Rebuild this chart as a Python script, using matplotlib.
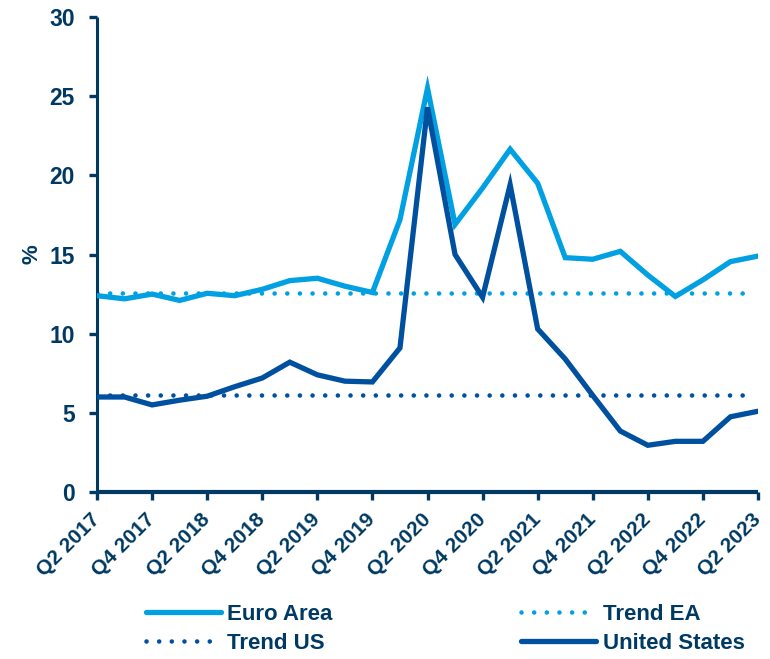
import matplotlib.pyplot as plt

# Quarterly series, Q2 2017 .. Q2 2023
quarters = [
    "Q2 2017", "Q3 2017", "Q4 2017", "Q1 2018", "Q2 2018", "Q3 2018", "Q4 2018",
    "Q1 2019", "Q2 2019", "Q3 2019", "Q4 2019", "Q1 2020", "Q2 2020", "Q3 2020",
    "Q4 2020", "Q1 2021", "Q2 2021", "Q3 2021", "Q4 2021", "Q1 2022", "Q2 2022",
    "Q3 2022", "Q4 2022", "Q1 2023", "Q2 2023",
]
euro_area = [12.4, 12.2, 12.5, 12.1, 12.55, 12.4, 12.8, 13.35, 13.5, 13.0, 12.6,
             17.2, 25.5, 16.9, 19.2, 21.65, 19.5, 14.8, 14.7, 15.2, 13.7, 12.35,
             13.4, 14.55, 14.9]
united_states = [6.0, 6.0, 5.5, 5.8, 6.05, 6.65, 7.2, 8.2, 7.4, 7.0, 6.95,
                 9.1, 24.3, 15.0, 12.3, 19.4, 10.3, 8.4, 6.1, 3.85, 2.95, 3.2,
                 3.2, 4.75, 5.1]
trend_ea = 12.6
trend_us = 6.1

navy = "#003A63"
light_blue = "#00A0E2"
dark_blue = "#0050A0"

plt.rcParams["font.family"] = ["Liberation Sans", "DejaVu Sans"]
plt.rcParams["font.weight"] = "bold"

fig = plt.figure(figsize=(7.7, 6.59), dpi=100)
ax = fig.add_axes([97 / 770, 167 / 659, 661 / 770, 475 / 659])

x = list(range(len(quarters)))
dot_style = (0, (0.01, 2.75))

l_ea, = ax.plot(x, euro_area, color=light_blue, lw=3.8, label="Euro Area",
                solid_joinstyle="miter", solid_capstyle="round", zorder=3)
l_tea, = ax.plot([x[0], x[-1] - 0.4], [trend_ea, trend_ea], color=light_blue, lw=3.3,
                 ls=dot_style, dash_capstyle="round", label="Trend EA", zorder=2)
l_tus, = ax.plot([x[0], x[-1] - 0.4], [trend_us, trend_us], color=dark_blue, lw=3.3,
                 ls=dot_style, dash_capstyle="round", label="Trend US", zorder=2)
l_us, = ax.plot(x, united_states, color=dark_blue, lw=3.8, label="United States",
                solid_joinstyle="miter", solid_capstyle="round", zorder=4)

ax.set_xlim(0, 24)
ax.set_ylim(0, 30)
ax.set_yticks(range(0, 31, 5))
ax.set_xticks(x[::2])
ax.set_xticklabels(quarters[::2], rotation=45, ha="right", va="center",
                   rotation_mode="anchor")

for side in ["top", "right"]:
    ax.spines[side].set_visible(False)
ax.spines["left"].set_linewidth(2.2)
ax.spines["bottom"].set_linewidth(3.0)
for side in ["left", "bottom"]:
    ax.spines[side].set_color(navy)
    ax.spines[side].set_capstyle("butt")

ax.tick_params(axis="both", colors=navy, width=2.4, length=6)
ax.tick_params(axis="y", labelsize=16.5, pad=10)
ax.tick_params(axis="x", labelsize=15, pad=12)
ax.set_ylabel("%", color=navy, fontsize=16, fontweight="bold", labelpad=5)

fig.legend(handles=[l_ea, l_tus, l_tea, l_us], ncol=2, frameon=False,
           loc="center left", bbox_to_anchor=(135 / 770, 30 / 659),
           fontsize=16, labelcolor=navy, handlelength=3.37, handletextpad=0.28,
           columnspacing=8.5, labelspacing=0.38, borderpad=0)

fig.savefig("out.png", dpi=100)
